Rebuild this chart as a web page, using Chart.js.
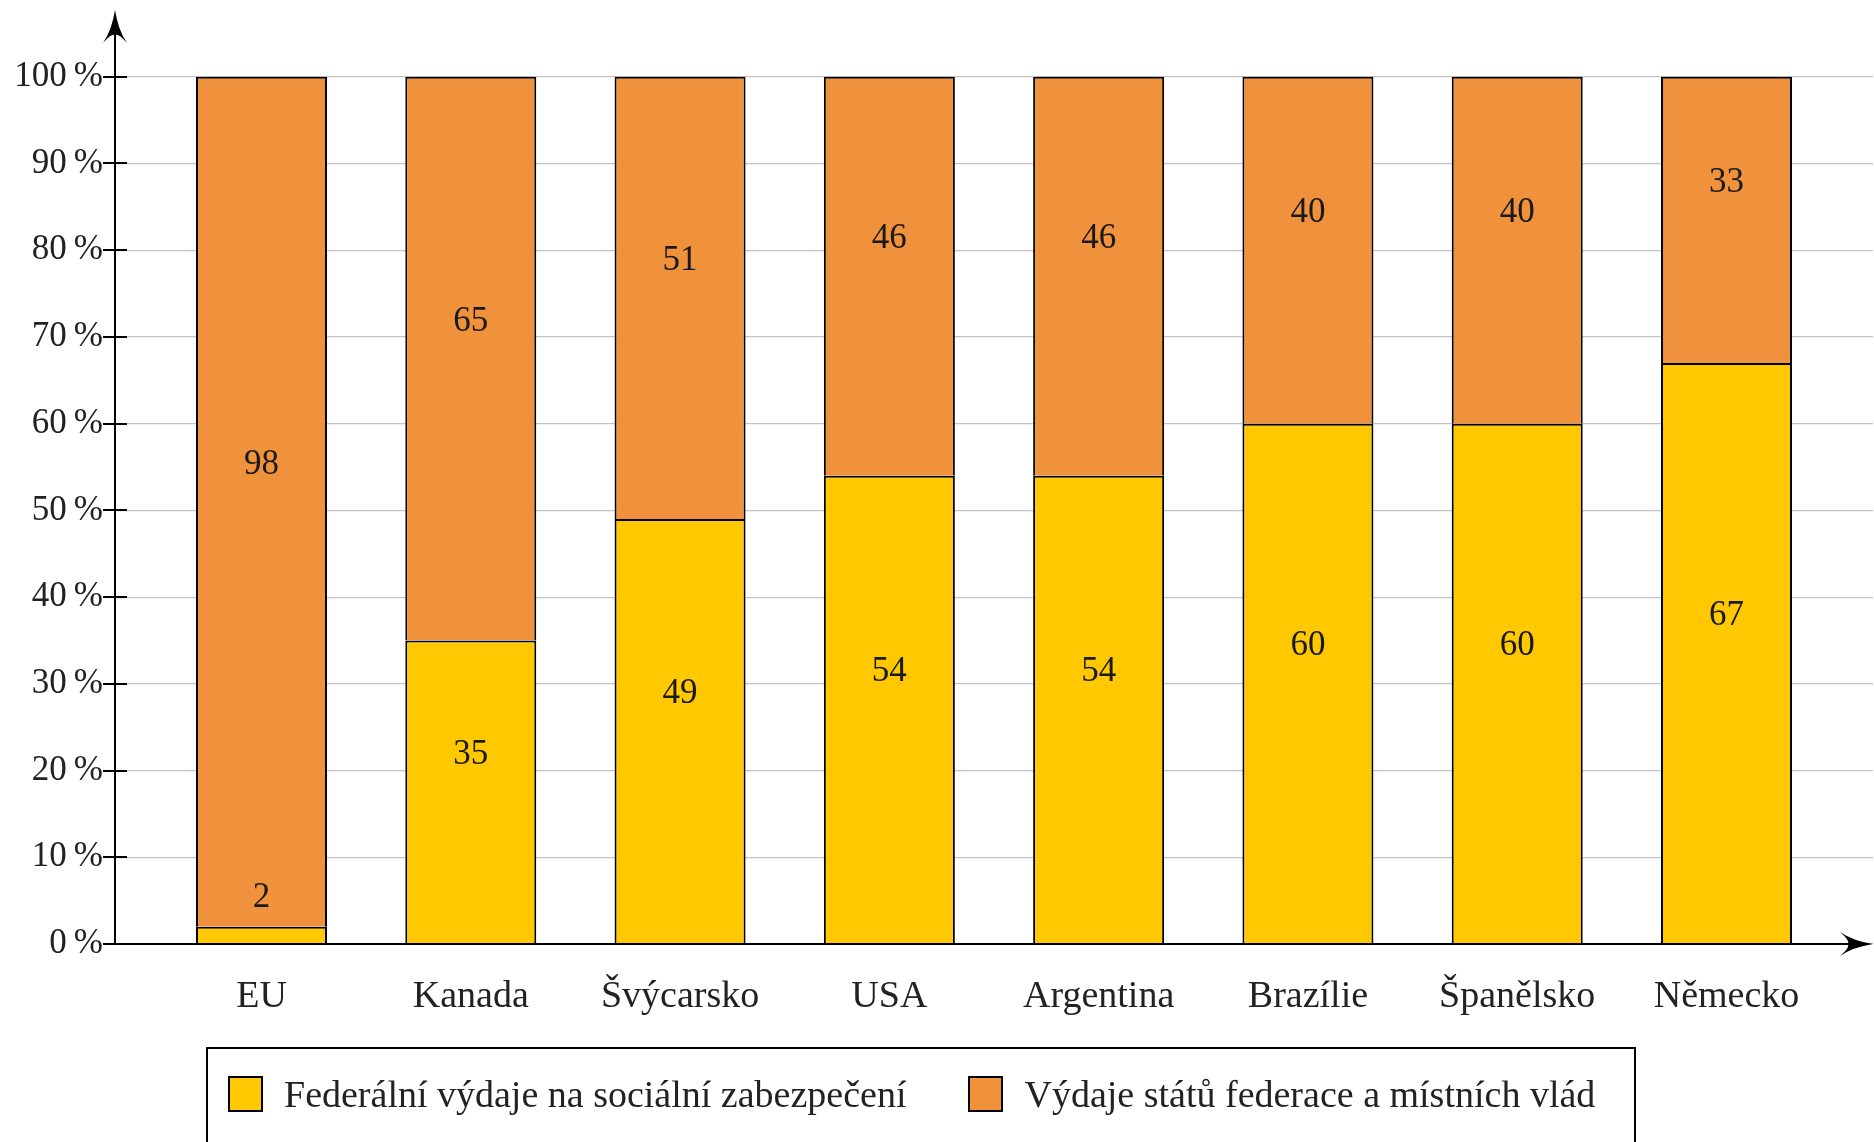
<!DOCTYPE html>
<html lang="cs">
<head>
<meta charset="utf-8">
<script src="https://cdn.jsdelivr.net/npm/chart.js@4/dist/chart.umd.min.js"></script>
<style>
  html, body { margin: 0; padding: 0; background: #fff; }
  body { width: 1874px; height: 1142px; overflow: hidden; position: relative; }
  #c { position: absolute; left: 0; top: 0; }
  #legend {
    position: absolute; left: 206px; top: 1047px; width: 1426px; height: 130px;
    border: 2px solid #000; box-sizing: content-box;
    font-family: "Liberation Serif", serif; font-size: 38px; color: #222;
  }
  #legend .row { display: flex; align-items: center; height: 90px; padding-left: 20px; white-space: nowrap; }
  #legend .item { display: flex; align-items: center; margin-right: 62px; flex-shrink: 0; }
  #legend .sw { width: 31px; height: 32px; border: 2px solid #000; margin-right: 21px; flex-shrink: 0; }
</style>
</head>
<body>
<canvas id="c" width="1874" height="1142"></canvas>
<div id="legend"><div class="row"></div></div>
<script>
// ---- data ----
const categories = ['EU', 'Kanada', 'Švýcarsko', 'USA', 'Argentina', 'Brazílie', 'Španělsko', 'Německo'];
const federal = [2, 35, 49, 54, 54, 60, 60, 67];
const states = [98, 65, 51, 46, 46, 40, 40, 33];
const seriesNames = ['Federální výdaje na sociální zabezpečení', 'Výdaje států federace a místních vlád'];
const yTickValues = [0, 10, 20, 30, 40, 50, 60, 70, 80, 90, 100];

// ---- style ----
const colors = ['#FFC800', '#F0913C'];
const labelLift = 4.3; // value-units offset of the in-bar labels

const toPoints = arr => arr.map((v, i) => ({ x: i, y: v }));

const legendRow = document.querySelector('#legend .row');
seriesNames.forEach((name, i) => {
  const it = document.createElement('div');
  it.className = 'item';
  const sw = document.createElement('div');
  sw.className = 'sw';
  sw.style.background = colors[i];
  const tx = document.createElement('span');
  tx.textContent = name;
  it.appendChild(sw); it.appendChild(tx);
  legendRow.appendChild(it);
});

function arrowHead(ctx, tx, ty, ux, uy) {
  const L = 33, W = 12, N = 8;
  const vx = -uy, vy = ux;
  const bl = [tx - L * ux + W * vx, ty - L * uy + W * vy];
  const br = [tx - L * ux - W * vx, ty - L * uy - W * vy];
  const nt = [tx - (L - N) * ux, ty - (L - N) * uy];
  ctx.beginPath();
  ctx.moveTo(tx, ty);
  ctx.quadraticCurveTo(tx - 0.6 * L * ux + 0.25 * W * vx, ty - 0.6 * L * uy + 0.25 * W * vy, bl[0], bl[1]);
  ctx.quadraticCurveTo(nt[0] + 2 * ux + 0.3 * W * vx, nt[1] + 2 * uy + 0.3 * W * vy, nt[0], nt[1]);
  ctx.quadraticCurveTo(nt[0] + 2 * ux - 0.3 * W * vx, nt[1] + 2 * uy - 0.3 * W * vy, br[0], br[1]);
  ctx.quadraticCurveTo(tx - 0.6 * L * ux - 0.25 * W * vx, ty - 0.6 * L * uy - 0.25 * W * vy, tx, ty);
  ctx.closePath();
  ctx.fill();
}

const decor = {
  id: 'decor',
  afterDatasetsDraw(chart) {
    const { ctx, chartArea: { left, right, top, bottom }, scales: { y } } = chart;
    ctx.save();
    // in-bar value labels
    ctx.font = '35px "Liberation Serif", serif';
    ctx.fillStyle = '#1a1a1a';
    ctx.textAlign = 'center';
    ctx.textBaseline = 'middle';
    const lift = y.getPixelForValue(0) - y.getPixelForValue(labelLift);
    chart.data.datasets.forEach((ds, di) => {
      const meta = chart.getDatasetMeta(di);
      meta.data.forEach((bar, i) => {
        const p = bar.getProps(['x', 'y', 'base'], true);
        ctx.fillText(String(ds.data[i].y), p.x, (p.y + p.base) / 2 - lift);
      });
    });
    // axes
    ctx.strokeStyle = '#000';
    ctx.fillStyle = '#000';
    ctx.lineWidth = 2;
    ctx.beginPath();
    ctx.moveTo(left, bottom); ctx.lineTo(left, top + 20);
    ctx.moveTo(left, bottom); ctx.lineTo(right - 20, bottom);
    ctx.stroke();
    arrowHead(ctx, left, top, 0, -1);
    arrowHead(ctx, right, bottom, 1, 0);
    // y tick marks crossing the axis
    ctx.beginPath();
    y.ticks.forEach(t => {
      const py = Math.round(y.getPixelForValue(t.value));
      ctx.moveTo(left - 12, py); ctx.lineTo(left + 12, py);
    });
    ctx.stroke();
    ctx.restore();
  }
};

const noPad = s => { s.paddingTop = 0; s.paddingBottom = 0; s.paddingLeft = 0; s.paddingRight = 0; };

new Chart(document.getElementById('c'), {
  type: 'bar',
  data: {
    datasets: [
      { label: seriesNames[0], data: toPoints(federal), backgroundColor: colors[0], borderColor: '#000', borderWidth: 2 },
      { label: seriesNames[1], data: toPoints(states), backgroundColor: colors[1], borderColor: '#000', borderWidth: 2 }
    ]
  },
  options: {
    responsive: false,
    animation: false,
    devicePixelRatio: 1,
    layout: { padding: { top: 10, right: 1, left: 0, bottom: 0 } },
    plugins: { legend: { display: false }, tooltip: { enabled: false }, title: { display: false } },
    datasets: { bar: { categoryPercentage: 1, barPercentage: 0.626 } },
    scales: {
      x: {
        type: 'linear', stacked: true, min: -0.7, max: 7.7, offset: false,
        grid: { display: false, drawTicks: false, offset: false },
        border: { display: false },
        afterBuildTicks: s => { s.ticks = categories.map((c, i) => ({ value: i })); },
        afterFit: s => { s.height = 198; noPad(s); },
        ticks: {
          autoSkip: false, maxRotation: 0, padding: 30, color: '#222',
          font: { family: '"Liberation Serif", serif', size: 38 },
          callback: v => categories[v] ?? ''
        }
      },
      y: {
        stacked: true, min: 0, max: 107.7,
        grid: { color: '#c4c4c4', lineWidth: 1.2, drawTicks: false },
        border: { display: false },
        afterBuildTicks: s => { s.ticks = yTickValues.map(v => ({ value: v })); },
        afterFit: s => { s.width = 115; noPad(s); },
        ticks: {
          padding: 12, color: '#222',
          font: { family: '"Liberation Serif", serif', size: 35 },
          callback: v => v + '\u2009%'
        }
      }
    }
  },
  plugins: [decor]
});
</script>
</body>
</html>
